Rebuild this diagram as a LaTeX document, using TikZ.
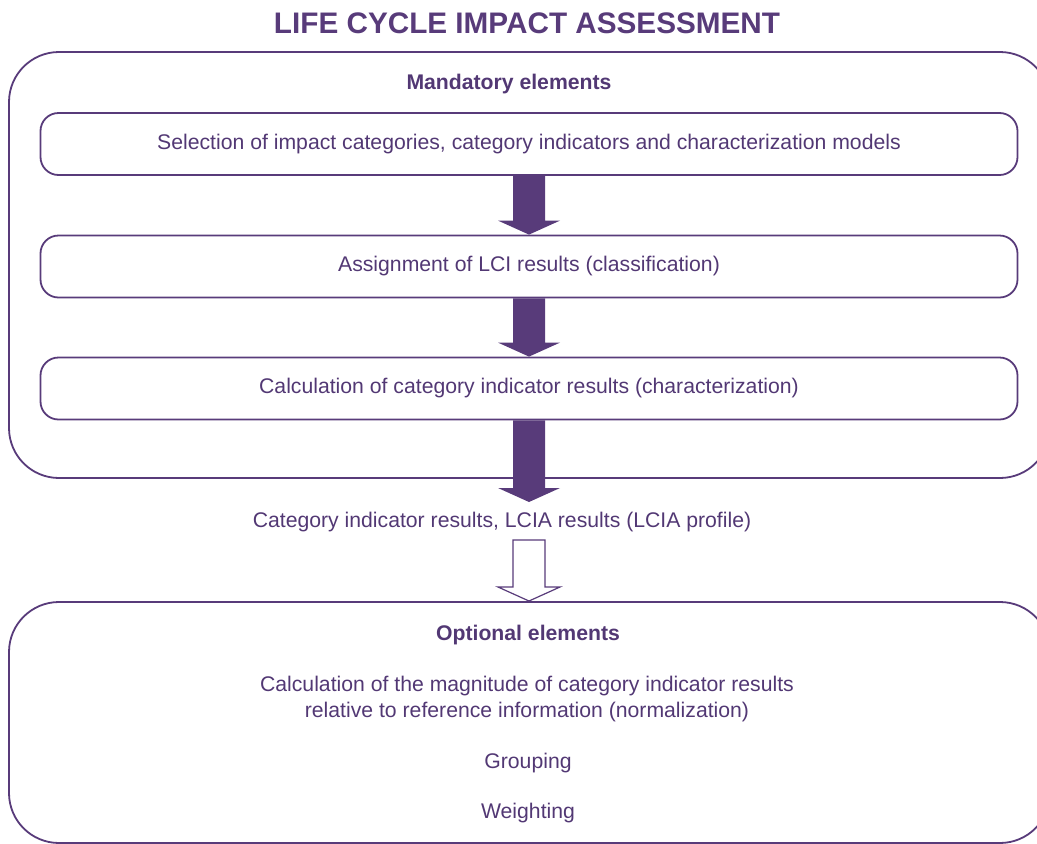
\documentclass[tikz,border=0pt]{standalone}
\usepackage{fontspec}
\setmainfont{Liberation Sans}
\usetikzlibrary{calc}
\definecolor{lcapurple}{RGB}{88,59,122}
\definecolor{lcatext}{RGB}{82,56,116}
\tikzset{outer/.style = {draw=lcapurple, line width=1.8pt, rounded corners=50pt, minimum width=1041pt, inner sep=0pt}}
\tikzset{stage/.style = {draw=lcapurple, line width=1.8pt, rounded corners=18pt, minimum width=977pt, minimum height=62pt, font=\fontsize{21.2}{25}\selectfont, text=lcatext}}
\tikzset{label/.style = {font=\fontsize{21.2}{26}\selectfont, text=lcatext, align=center}}
\tikzset{head/.style = {font=\bfseries\fontsize{21.2}{25}\selectfont, text=lcatext}}
\tikzset{fat/.style = {fill=lcapurple}}
\tikzset{hollow/.style = {draw=lcapurple, line width=1.2pt, fill=white}}
% block arrow from #2 down to its tip #3
\newcommand{\blockarrow}[3]{\path[#1] ($(#2)+(-16,0)$) -- ($(#2)+(16,0)$) -- ($(#3)+(16,-14)$) -- ($(#3)+(31,-14)$)
              -- (#3) -- ($(#3)+(-31,-14)$) -- ($(#3)+(-16,-14)$) -- cycle;}

\begin{document}
\begin{tikzpicture}[x=1pt, y=-1pt]
        \useasboundingbox (0,0) rectangle (1037,844);
        \clip (0,0) rectangle (1037,844);

        \node[font=\bfseries\fontsize{29.7}{34}\selectfont, text=lcapurple] (title) at (527, 23) {LIFE CYCLE IMPACT ASSESSMENT};

        % mandatory part
        \node[outer, minimum height=426pt] (mand) at (529.5, 265) {};
        \node[head] (mandlabel) at (509, 84) {Mandatory elements};
        \node[stage] (select) at (529, 144) {Selection of impact categories, category indicators and characterization models};
        \node[stage] (assign) at (529, 266.5) {Assignment of LCI results (classification)};
        \node[stage] (calc) at (529, 388.5) {Calculation of category indicator results (characterization)};

        \coordinate (calctip) at (529, 502);
        \blockarrow{fat}{select.south}{assign.north}
        \blockarrow{fat}{assign.south}{calc.north}
        \blockarrow{fat}{calc.south}{calctip}

        \node[label] (profile) at (502, 522) {Category indicator results, LCIA results (LCIA profile)};

        % optional part
        \node[outer, minimum height=241pt] (opt) at (529.5, 722.5) {};
        \coordinate (proftail) at (529, 540);
        \coordinate (opttip) at (529, 601);
        \blockarrow{hollow}{proftail}{opttip}

        \node[head] (optlabel) at (528, 635) {Optional elements};
        \node[label] (norm) at (527, 699) {Calculation of the magnitude of category indicator results\\relative to reference information (normalization)};
        \node[label] (group) at (528, 763) {Grouping};
        \node[label] (weight) at (528, 813) {Weighting};
\end{tikzpicture}
\end{document}
